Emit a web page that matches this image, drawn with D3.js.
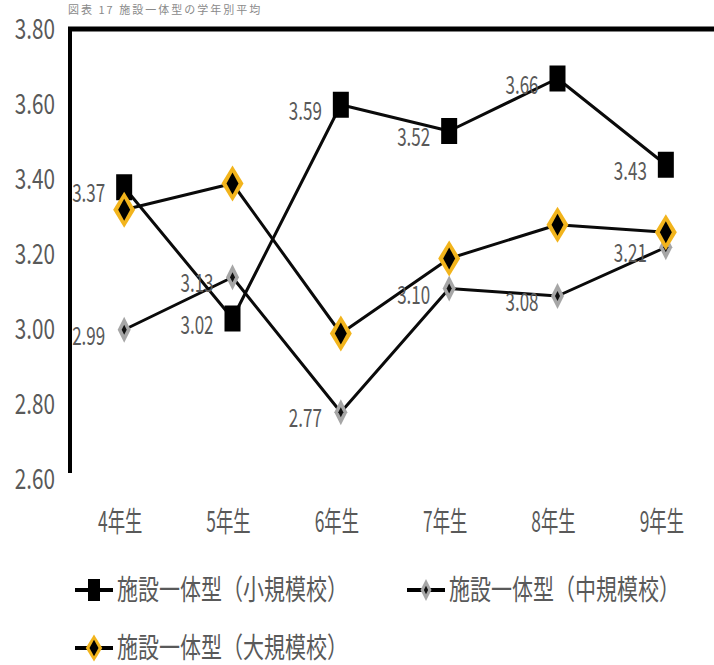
<!DOCTYPE html>
<html>
<head>
<meta charset="utf-8">
<script src="https://cdn.jsdelivr.net/npm/d3@7/dist/d3.min.js"></script>
<style>
  html, body { margin: 0; padding: 0; background: #fff; }
  svg { display: block; }
</style>
</head>
<body>
<div id="chart"></div>
<script>
// Grade categories and tick labels
const grades = ["4年生", "5年生", "6年生", "7年生", "8年生", "9年生"];
const yTicks = [2.6, 2.8, 3.0, 3.2, 3.4, 3.6, 3.8];

// Series values (school scale)
const smallSchool = [3.37, 3.02, 3.59, 3.52, 3.66, 3.43];
const mediumSchool = [2.99, 3.13, 2.77, 3.10, 3.08, 3.21];
const largeSchool = [3.31, 3.38, 2.98, 3.18, 3.27, 3.25];

const seriesNames = ["施設一体型（小規模校）", "施設一体型（中規模校）", "施設一体型（大規模校）"];
const titleText = "図表 17 施設一体型の学年別平均";

const W = 714, H = 665;
const FONT = "'Noto Sans CJK JP', 'Noto Sans', sans-serif";
const TEXT = "#595959";

const svg = d3.select("#chart").append("svg")
  .attr("width", W).attr("height", H);

const x = d3.scaleBand().domain(grades).range([70, 720]);
const cx = g => x(g) + x.bandwidth() / 2;
const y = d3.scaleLinear().domain([2.6, 3.8]).range([476, 26]);

// Condensed text helper
function ctext(parent, str, px, py, size, sx, anchor, fill) {
  return parent.append("text")
    .attr("transform", `translate(${px},${py}) scale(${sx},1)`)
    .attr("text-anchor", anchor)
    .attr("dominant-baseline", "central")
    .attr("font-family", FONT)
    .attr("font-size", size)
    .attr("fill", fill || TEXT)
    .text(str);
}

// Title line above the plot
ctext(svg, titleText, 68, 9, 11, 1, "start", "#8a8a8a").attr("letter-spacing", 2);

// Y axis tick labels
yTicks.forEach(t => ctext(svg, d3.format(".2f")(t), 55, y(t), 28, 0.74, "end"));

// Plot frame: thick top and left edges
svg.append("line").attr("x1", 68).attr("x2", W).attr("y1", y(3.8) + 3).attr("y2", y(3.8) + 3)
  .attr("stroke", "#000").attr("stroke-width", 5);
svg.append("line").attr("x1", 70).attr("x2", 70).attr("y1", y(3.8) + 1).attr("y2", y(2.6) - 3)
  .attr("stroke", "#000").attr("stroke-width", 4);

// X category labels
grades.forEach(g => ctext(svg, g, cx(g) - 4, 520, 28, 0.62, "middle"));

const line = d3.line().x((d, i) => cx(grades[i])).y(d => y(d));

// Marker shapes
function square(g, w, h) {
  g.append("rect").attr("x", -w / 2).attr("y", -h / 2).attr("width", w).attr("height", h).attr("fill", "#000");
}
function diamond(g, hw, hh, fill) {
  g.append("path").attr("d", `M0,${-hh}L${hw},0L0,${hh}L${-hw},0Z`).attr("fill", fill);
}
function mediumMarker(g, s) {
  diamond(g, 6.5 * s, 13 * s, "#a6a6a6");
  diamond(g, 2.5 * s, 5 * s, "#111");
}
function largeMarker(g, s) {
  diamond(g, 11 * s, 18 * s, "#f2b41c");
  diamond(g, 6 * s, 11 * s, "#000");
}

const plot = svg.append("g");

function drawSeries(vals, marker) {
  plot.append("path").datum(vals).attr("d", line)
    .attr("fill", "none").attr("stroke", "#0a0a0a").attr("stroke-width", 3)
    .attr("stroke-linejoin", "round");
  vals.forEach((v, i) => {
    const g = plot.append("g").attr("transform", `translate(${cx(grades[i])},${y(v)})`);
    marker(g);
  });
}

drawSeries(mediumSchool, g => mediumMarker(g, 1));
drawSeries(smallSchool, g => square(g, 16, 26));
drawSeries(largeSchool, g => largeMarker(g, 1));

// Value labels (small and medium schools)
[smallSchool, mediumSchool].forEach(vals => {
  vals.forEach((v, i) => {
    ctext(svg, d3.format(".2f")(v), cx(grades[i]) - 19, y(v) + 4, 25, 0.68, "end");
  });
});

// Legend
const legendItems = [
  { x: 75, y: 590, name: seriesNames[0], marker: g => square(g, 12, 22) },
  { x: 407, y: 590, name: seriesNames[1], marker: g => mediumMarker(g, 0.85) },
  { x: 75, y: 648, name: seriesNames[2], marker: g => largeMarker(g, 0.75) }
];
legendItems.forEach(d => {
  const g = svg.append("g").attr("transform", `translate(${d.x},${d.y})`);
  g.append("line").attr("x1", 0).attr("x2", 38).attr("y1", 0).attr("y2", 0)
    .attr("stroke", "#000").attr("stroke-width", 4);
  const m = g.append("g").attr("transform", "translate(19,0)");
  d.marker(m);
  ctext(g, d.name, 42, -2, 28, 0.75, "start");
});
</script>
</body>
</html>
